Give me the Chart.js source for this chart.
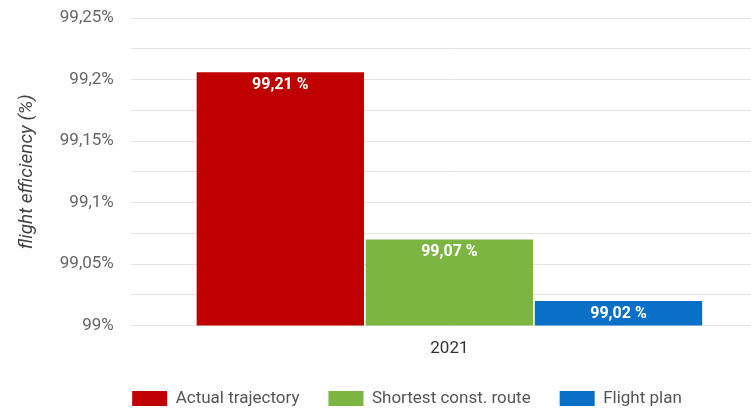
<!DOCTYPE html>
<html>
<head>
<meta charset="utf-8">
<script src="https://cdn.jsdelivr.net/npm/chart.js@4.4.1/dist/chart.umd.min.js"></script>
<style>
  html, body { margin: 0; padding: 0; background: #fff; overflow: hidden; }
  #wrap { width: 768px; height: 408px; }
</style>
</head>
<body>
<div id="wrap"><canvas id="fe-chart" width="768" height="408"></canvas></div>
<script>
// flight efficiency per reference trajectory, 2021
const years = ['2021'];
const seriesNames = ['Actual trajectory', 'Shortest const. route', 'Flight plan'];
const seriesValues = [[99.206], [99.07], [99.02]];
const seriesColors = ['#c00000', '#7db543', '#0a6fc7'];

const yTickValues = [99, 99.025, 99.05, 99.075, 99.1, 99.125, 99.15, 99.175, 99.2, 99.225, 99.25];
const yTickLabels = ['99%', '', '99,05%', '', '99,1%', '', '99,15%', '', '99,2%', '', '99,25%'];

const FONT = 'Roboto, "Open Sans", sans-serif';

// "99,21 %" style label inside the top of every bar
const barLabels = {
    id: 'barLabels',
    afterDatasetsDraw(chart) {
        const ctx = chart.ctx;
        ctx.save();
        ctx.font = 'bold 16px ' + FONT;
        ctx.fillStyle = '#ffffff';
        ctx.textAlign = 'center';
        ctx.textBaseline = 'middle';
        chart.data.datasets.forEach((ds, i) => {
            chart.getDatasetMeta(i).data.forEach((bar, j) => {
                const txt = ds.data[j].toFixed(2).replace('.', ',') + ' %';
                ctx.fillText(txt, bar.x, bar.y + 13);
            });
        });
        ctx.restore();
    }
};

// legend sits a bit right of the canvas centre
const legendShift = {
    id: 'legendShift',
    afterLayout(chart) {
        chart.legend.left = 46;
    }
};

new Chart(document.getElementById('fe-chart'), {
    type: 'bar',
    data: {
        labels: years,
        datasets: seriesNames.map((name, i) => ({
            label: name,
            data: seriesValues[i],
            backgroundColor: seriesColors[i],
            borderWidth: 0,
            barPercentage: 0.99,
            categoryPercentage: 0.796
        }))
    },
    options: {
        responsive: false,
        animation: false,
        layout: { padding: { top: 0, right: 0, bottom: -9, left: 16 } },
        plugins: {
            legend: {
                position: 'bottom',
                labels: {
                    boxWidth: 35,
                    boxHeight: 15,
                    padding: 29,
                    color: '#555',
                    font: { family: FONT, size: 17 }
                }
            },
            tooltip: { enabled: false }
        },
        scales: {
            x: {
                grid: { display: false },
                border: { display: false },
                ticks: { color: '#333', font: { family: FONT, size: 17 }, padding: 5 },
                afterFit(scale) {
                    scale.height -= 3;
                }
            },
            y: {
                min: 99,
                max: 99.25,
                afterBuildTicks(axis) {
                    axis.ticks = yTickValues.map(v => ({ value: v }));
                },
                afterFit(scale) {
                    scale.paddingTop = 18;
                },
                grid: { color: '#e4e4e4', drawTicks: false },
                border: { display: false },
                ticks: {
                    color: '#666',
                    padding: 17,
                    font: { family: FONT, size: 17 },
                    callback: (v, i) => yTickLabels[i]
                },
                title: {
                    display: true,
                    text: 'flight efficiency (%)',
                    color: '#444',
                    font: { family: FONT, size: 19, style: 'italic' },
                    padding: { top: 0, bottom: 4 }
                }
            }
        }
    },
    plugins: [barLabels, legendShift]
});
</script>
</body>
</html>
